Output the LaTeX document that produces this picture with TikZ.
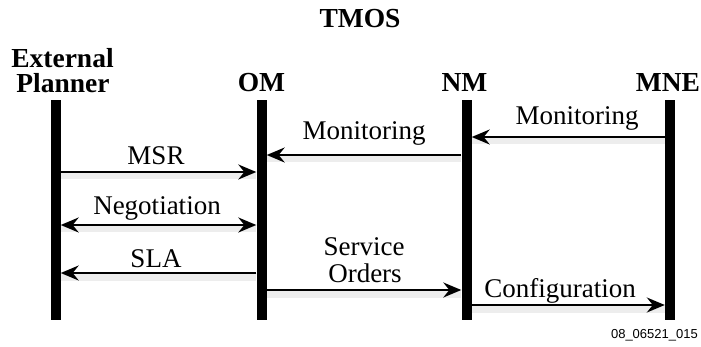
\documentclass[tikz,border=0pt]{standalone}
\usepackage{fontspec}
\setmainfont{Liberation Serif}
\newfontfamily\idfont{Liberation Sans}
\usetikzlibrary{arrows.meta}
\begin{document}
\begin{tikzpicture}[x=1pt,y=-1pt,
  lifeline/.style={fill=black, draw=none, minimum width=10pt, minimum height=220pt, inner sep=0pt, anchor=north},
  hdr/.style={font=\fontsize{27.5}{30}\selectfont\bfseries, anchor=base, inner sep=0pt},
  lbl/.style={font=\fontsize{27}{30}\selectfont, anchor=base, inner sep=0pt},
  tip/.style={Stealth[length=18pt,width=15pt,inset=6pt]},
  msg/.style={line width=2pt, -{Stealth[length=18pt,width=15pt,inset=6pt]},
    preaction={draw=black, line width=7pt, opacity=0.07, arrows=-, transform canvas={yshift=-4pt}}},
  msgboth/.style={msg, {Stealth[length=18pt,width=15pt,inset=6pt]}-{Stealth[length=18pt,width=15pt,inset=6pt]}}
]
\useasboundingbox (0,0) rectangle (701,347);
% title and headers
\node[hdr] (tmos) at (360,28) {TMOS};
\node[hdr] (ext) at (62.5,68) {External};
\node[hdr] (pla) at (63,93) {Planner};
\node[hdr] (omt) at (261.5,92) {OM};
\node[hdr] (nmt) at (464.5,92) {NM};
\node[hdr] (mnet) at (668,92) {MNE};
% lifelines
\node[lifeline] (EP) at (55.5,100) {};
\node[lifeline] (OM) at (261.5,100) {};
\node[lifeline] (NM) at (466.5,100) {};
\node[lifeline] (MNE) at (670,100) {};
% message levels
\coordinate (y1) at (0,137);
\coordinate (y2) at (0,155);
\coordinate (y3) at (0,172);
\coordinate (y4) at (0,225);
\coordinate (y5) at (0,273);
\coordinate (y6) at (0,290);
\coordinate (y7) at (0,305);
% arrows
\draw[msg] (MNE.west |- y1) -- (NM.east |- y1);
\draw[msg] (NM.west |- y2) -- (OM.east |- y2);
\draw[msg] (EP.east |- y3) -- (OM.west |- y3);
\draw[msgboth] (EP.east |- y4) -- (OM.west |- y4);
\draw[msg] (OM.west |- y5) -- (EP.east |- y5);
\draw[msg] (OM.east |- y6) -- (NM.west |- y6);
\draw[msg] (NM.east |- y7) -- (MNE.west |- y7);
% labels
\node[lbl] (l1) at (577,125) {Monitoring};
\node[lbl] (l2) at (364,140) {Monitoring};
\node[lbl] (l3) at (156,165) {MSR};
\node[lbl] (l4) at (157,215) {Negotiation};
\node[lbl] (l5) at (156,268) {SLA};
\node[lbl] (l6a) at (364,255) {Service};
\node[lbl] (l6b) at (365,283) {Orders};
\node[lbl] (l7) at (560,297) {Configuration};
% figure id
\node[font=\idfont\fontsize{13}{15}\selectfont, anchor=base east, inner sep=0pt] (fid) at (698,338) {08\_06521\_015};
\end{tikzpicture}
\end{document}
